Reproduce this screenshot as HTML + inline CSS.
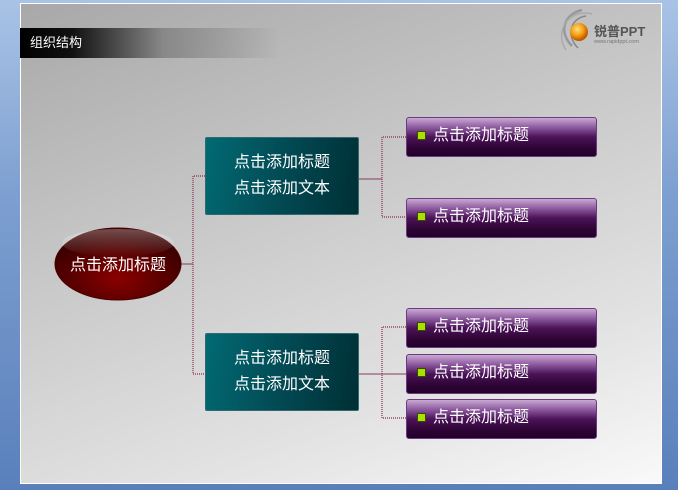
<!DOCTYPE html>
<html><head><meta charset="utf-8"><style>
html,body{margin:0;padding:0}
body{width:678px;height:490px;overflow:hidden;position:relative;background:linear-gradient(180deg,#a9c3e6 0%,#7d9fd0 40%,#5a80bc 100%);font-family:"Liberation Sans","Noto Sans CJK SC",sans-serif}
.slide{position:absolute;left:20px;top:3px;width:640px;height:479px;border:1px solid #fff;background:linear-gradient(160deg,#a8a8a8 0%,#c8c8c8 40%,#e2e2e2 75%,#f9f9f9 100%)}
.bar{position:absolute;left:20px;top:28px;width:260px;height:30px;background:linear-gradient(90deg,#000 0%,#111 20%,#888 55%,rgba(190,190,190,0) 100%);color:#fff;font-size:13px;line-height:30px;padding-left:10px;box-sizing:border-box}
.teal{position:absolute;left:205px;width:154px;height:78px;border:1px solid #2f6a70;border-radius:2px;background:linear-gradient(100deg,#016a73 0%,#024a54 50%,#002f35 100%);color:#fff;font-size:16px;text-align:center;line-height:26px;box-sizing:border-box;padding-top:12px}
.pur{position:absolute;left:406px;width:191px;height:40px;border:1px solid #6d3a80;border-radius:3px;background:linear-gradient(180deg,#c9a9d3 0%,#8d5a9f 25%,#4b1358 50%,#2d0434 80%,#22002a 100%);color:#fff;font-size:16px;line-height:36px;box-sizing:border-box;padding-left:26px}
.pur:before{content:"";position:absolute;left:10px;top:13px;width:7px;height:7px;background:#a8e000;border:1px solid #3a4a00}
</style></head><body>
<div class="slide"></div>
<div class="bar">组织结构</div>
<svg style="position:absolute;left:0;top:0" width="678" height="490">
<defs>
<radialGradient id="el" cx="50%" cy="70%" r="60%"><stop offset="0" stop-color="#8a0000"/><stop offset="0.6" stop-color="#5a0000"/><stop offset="1" stop-color="#3a0000"/></radialGradient>
<linearGradient id="gl" x1="0" y1="0" x2="0" y2="1"><stop offset="0" stop-color="#fff" stop-opacity="0.6"/><stop offset="1" stop-color="#fff" stop-opacity="0"/></linearGradient>
<radialGradient id="orb" cx="40%" cy="35%" r="60%"><stop offset="0" stop-color="#ffe27a"/><stop offset="0.6" stop-color="#f39a12"/><stop offset="1" stop-color="#c05a00"/></radialGradient>
</defs>
<g stroke="#8a3a60" stroke-width="1" fill="none">
<line x1="181" y1="264" x2="193" y2="264"/>
<line x1="359" y1="179" x2="382" y2="179"/>
<line x1="359" y1="374" x2="406" y2="374"/>
</g>
<g stroke="#8a2a50" stroke-width="1.2" fill="none" stroke-dasharray="1,1">
<polyline points="205,176 193,176 193,374 205,374"/>
<polyline points="406,137 382,137 382,217 406,217"/>
<polyline points="406,327 382,327 382,418 406,418"/>
</g>
<ellipse cx="118" cy="264" rx="63" ry="36" fill="url(#el)" stroke="#4a0000"/>
<ellipse cx="118" cy="243" rx="56" ry="14" fill="url(#gl)" opacity="0.5"/>
<text x="118" y="270" fill="#fff" font-size="16" text-anchor="middle" font-family="Liberation Sans,Noto Sans CJK SC,sans-serif">点击添加标题</text>
<g transform="translate(556,8)">
<path d="M16 38 C2 24 8 6 26 2" stroke="#999" stroke-width="2.5" fill="none"/>
<path d="M10 42 C-2 24 12 0 36 6" stroke="#aaa" stroke-width="1.5" fill="none"/>
<path d="M22 40 C10 28 14 10 30 8" stroke="#888" stroke-width="1.5" fill="none"/>
<circle cx="23" cy="24" r="9" fill="url(#orb)"/>
<text x="38" y="28" font-size="13" font-weight="bold" fill="#555" font-family="Liberation Sans,Noto Sans CJK SC,sans-serif">锐普PPT</text>
<text x="38" y="35" font-size="5.5" fill="#777" font-family="Liberation Sans,sans-serif">www.rapidppt.com</text>
</g>
</svg>
<div class="teal" style="top:137px">点击添加标题<br>点击添加文本</div>
<div class="teal" style="top:333px">点击添加标题<br>点击添加文本</div>
<div class="pur" style="top:117px">点击添加标题</div>
<div class="pur" style="top:198px">点击添加标题</div>
<div class="pur" style="top:308px">点击添加标题</div>
<div class="pur" style="top:354px">点击添加标题</div>
<div class="pur" style="top:399px">点击添加标题</div>
</body></html>
